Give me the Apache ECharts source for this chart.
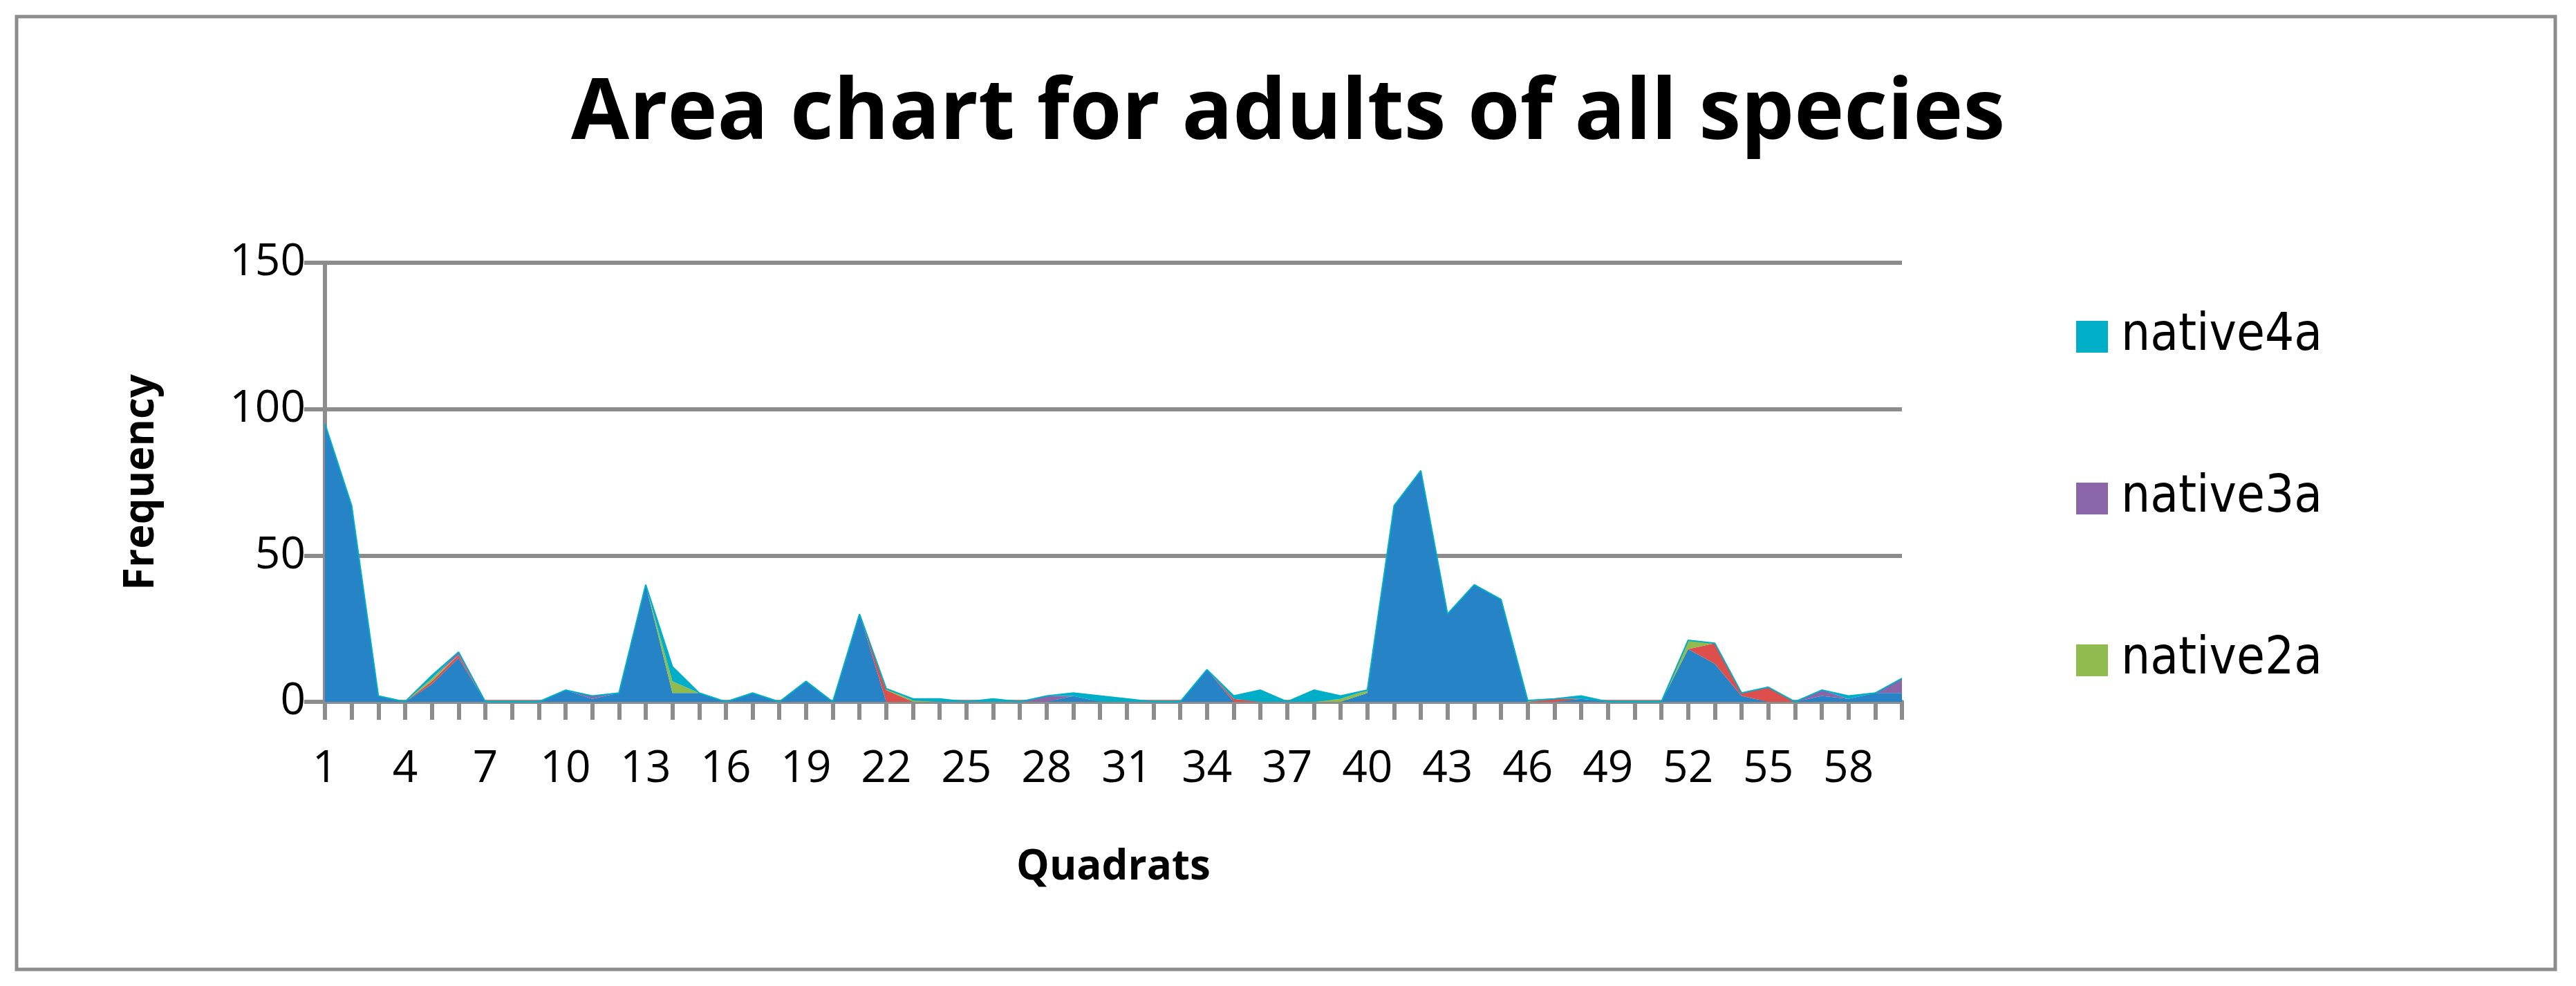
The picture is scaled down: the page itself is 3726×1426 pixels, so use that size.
<!DOCTYPE html>
<html>
<head>
<meta charset="utf-8">
<script src="https://cdn.jsdelivr.net/npm/echarts@6/dist/echarts.min.js"></script>
<style>
  html, body { margin: 0; padding: 0; background: #fff; }
  #chart { width: 3726px; height: 1426px; }
</style>
</head>
<body>
<div id="chart"></div>
<script>
// Quadrats 1..60
const quadrats = Array.from({ length: 60 }, (_, i) => String(i + 1));

// stacked series, bottom to top
const species1a = [95,67,2,0,6,15,0,0,0,4,1,3,40,3,3,0,3,0,7,0,30,0,0,0,0,0,0,0,2,0,0,0,0,11,0,0,0,0,0,3,67,79,30,40,35,0,0,1,0,0,0,18,13,2,0,0,2,1,3,3];
const native1a  = [0,0,0,0,1,1,0,0,0,0,0,0,0,0,0,0,0,0,0,0,0,4,0,0,0,0,0,0,0,0,0,0,0,0,1,0,0,0,0,0,0,0,0,0,0,0,1,0,0,0,0,0,7,1,5,0,0,0,0,0];
const native2a  = [0,0,0,0,1,0,0,0,0,0,0,0,0,4,0,0,0,0,0,0,0,0.5,0.5,0,0,0,0,0,0,0,0,0,0,0,0,0,0,0,1,1,0,0,0,0,0,0.5,0,0,0,0,0,3,0,0,0,0,0,0,0,0];
const native3a  = [0,0,0,0,0,1,0,0,0,0,1,0,0,0,0,0,0,0,0,0,0,0,0,0,0,0,0,2,0,0,0,0,0,0,0,0,0,0,0,0,0,0,0,0,0,0,0,0,0,0,0,0,0,0,0,0,2,0,0,5];
const native4a  = [0,0,0,0,1,0,0,0,0,0,0,0,0,5,0,0,0,0,0,0,0,0,0.5,1,0,1,0,0,1,2,1,0,0,0,1,4,0,4,1,0,0,0,0,0,0,0,0,1,0,0,0,0,0,0,0,0,0,1,0,0];

const seriesNames = ['species1a', 'native1a', 'native2a', 'native3a', 'native4a'];
const seriesData = [species1a, native1a, native2a, native3a, native4a];
const seriesColors = ['#2683C6', '#DD4F4D', '#8FBB4F', '#8A66A8', '#00AEC8'];

const gridGray = '#8C8C8C';

const chart = echarts.init(document.getElementById('chart'));

const option = {
    backgroundColor: '#fff',
    animation: false,
    title: {
        text: 'Area chart for adults of all species',
        left: 'center',
        top: 100,
        textStyle: {
            fontFamily: '"Open Sans", sans-serif',
            fontWeight: 'bold',
            fontSize: 122,
            color: '#000'
        }
    },
    legend: {
        orient: 'vertical',
        left: 2998,
        top: 445,
        itemWidth: 46,
        itemHeight: 46,
        itemGap: 160,
        icon: 'rect',
        data: ['native4a', 'native3a', 'native2a'],
        textStyle: {
            fontFamily: '"Liberation Sans Narrow", "DejaVu Sans Condensed", sans-serif',
            fontSize: 74,
            color: '#000',
            padding: [0, 0, 0, 14]
        }
    },
    grid: { left: 470, right: 975, top: 380, bottom: 411 },
    xAxis: {
        type: 'category',
        data: quadrats,
        boundaryGap: false,
        name: 'Quadrats',
        nameLocation: 'middle',
        nameGap: 210,
        nameTextStyle: {
            fontFamily: '"Open Sans", sans-serif',
            fontWeight: 'bold',
            fontSize: 60,
            color: '#000'
        },
        axisLine: { lineStyle: { color: gridGray, width: 6 } },
        axisTick: { show: true, interval: 0, length: 26, lineStyle: { color: gridGray, width: 6 } },
        axisLabel: {
            interval: 2,
            margin: 66,
            fontFamily: '"Open Sans", sans-serif',
            fontSize: 64,
            color: '#000'
        }
    },
    yAxis: {
        type: 'value',
        min: 0,
        max: 150,
        interval: 50,
        name: 'Frequency',
        nameLocation: 'middle',
        nameGap: 235,
        nameTextStyle: {
            fontFamily: '"Open Sans", sans-serif',
            fontWeight: 'bold',
            fontSize: 60,
            color: '#000'
        },
        axisLine: { show: true, lineStyle: { color: gridGray, width: 6 } },
        axisTick: { show: true, length: 30, lineStyle: { color: gridGray, width: 6 } },
        splitLine: { lineStyle: { color: gridGray, width: 6 } },
        axisLabel: {
            margin: 28,
            fontFamily: '"Open Sans", sans-serif',
            fontSize: 64,
            color: '#000'
        }
    },
    graphic: [{
        type: 'rect',
        shape: { x: 24, y: 24, width: 3672, height: 1378 },
        style: { fill: 'none', stroke: gridGray, lineWidth: 5 },
        z: -1
    }],
    series: seriesNames.map((name, i) => ({
        name: name,
        type: 'line',
        stack: 'total',
        data: seriesData[i],
        symbol: 'none',
        color: seriesColors[i],
        lineStyle: { width: i === 4 ? 2 : 0, color: seriesColors[4] },
        areaStyle: { color: seriesColors[i], opacity: 1 }
    }))
};

chart.setOption(option);
</script>
</body>
</html>
